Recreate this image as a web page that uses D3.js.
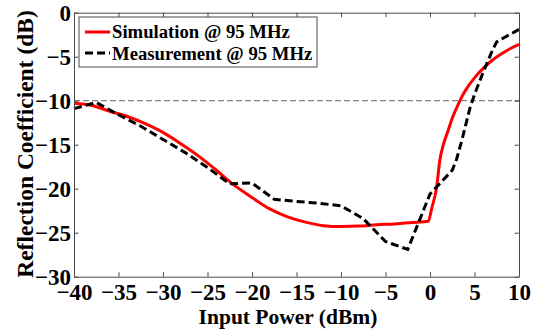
<!DOCTYPE html>
<html>
<head>
<meta charset="utf-8">
<script src="https://cdn.jsdelivr.net/npm/d3@7"></script>
<style>
  body { margin: 0; background: #fff; }
  svg { display: block; }
  text { font-family: "Liberation Serif", "Times New Roman", serif; font-weight: bold; fill: #000; }
</style>
</head>
<body>
<svg id="chart" width="543" height="331"></svg>
<script>
// Simulated reflection coefficient vs. input power
const simPower = [-40, -38, -36, -34, -32, -30, -28, -26, -24, -22, -20, -18, -16, -14, -12, -10, -8, -6, -4, -2, -0.2,
                  0.2, 0.75, 1.1, 1.5, 2.0, 2.5, 3.0, 3.5, 4.0, 5.0, 6.0, 7.0, 8.0, 9.0, 10];
const simGamma = [-10.3, -10.55, -11.2, -11.8, -12.6, -13.6, -14.9, -16.3, -17.9, -19.6, -21.0, -22.3, -23.2, -23.8, -24.2, -24.3, -24.25, -24.1, -24.0, -23.85, -23.7,
                  -22.2, -19.8, -16.8, -15.0, -13.5, -12.0, -10.8, -9.7, -8.8, -7.4, -6.3, -5.4, -4.7, -4.1, -3.6];

// Measured reflection coefficient vs. input power
const measPower = [-40, -37.5, -35, -32.5, -30, -27.5, -25, -22.5, -20, -17.5, -15, -12.5, -10, -7.5, -5, -2.5, 0,
                   2.5, 3.0, 3.5, 4.0, 4.5, 5.0, 5.5, 6.0, 6.5, 7.0, 7.5, 10];
const measGamma = [-10.9, -10.2, -11.6, -12.9, -14.4, -15.9, -17.6, -19.45, -19.35, -21.2, -21.45, -21.65, -21.95, -23.4, -26.0, -26.9, -20.6,
                   -17.9, -16.6, -14.8, -12.8, -10.8, -9.3, -8.0, -6.7, -5.5, -4.3, -3.3, -1.9];

const seriesNames = ["Simulation @ 95 MHz", "Measurement @ 95 MHz"];
const xTicks = [-40, -35, -30, -25, -20, -15, -10, -5, 0, 5, 10];
const yTicks = [0, -5, -10, -15, -20, -25, -30];
const thresholdDb = -10;
const xTitle = "Input Power (dBm)";
const yTitle = "Reflection Coefficient (dB)";

const svg = d3.select("#chart");
const margin = { left: 74, top: 12.7, right: 24, bottom: 54.3 };
const W = 543, H = 331;
const pw = W - margin.left - margin.right;
const ph = H - margin.top - margin.bottom;

const x = d3.scaleLinear().domain([-40, 10]).range([margin.left, margin.left + pw]);
const y = d3.scaleLinear().domain([-30, 0]).range([margin.top + ph, margin.top]);

const axisColor = "#4a4a4a";
const tickFont = 23;
const serif = "'Liberation Serif', 'Times New Roman', serif";

function styleAxis(g) {
  g.selectAll("path.domain").attr("stroke", axisColor).attr("stroke-width", 1);
  g.selectAll(".tick line").attr("stroke", axisColor).attr("stroke-width", 1);
  g.selectAll(".tick text")
    .attr("font-size", tickFont)
    .attr("font-family", serif)
    .attr("font-weight", "bold")
    .attr("fill", "#000");
}

// threshold line at -10 dB
svg.append("line")
  .attr("x1", x(-40)).attr("x2", x(10))
  .attr("y1", y(thresholdDb)).attr("y2", y(thresholdDb))
  .attr("stroke", "#666").attr("stroke-width", 1)
  .attr("stroke-dasharray", "6,3");

// data lines
const lineSim = d3.line().x(d => x(d[0])).y(d => y(d[1])).curve(d3.curveMonotoneX);
const lineMeas = d3.line().x(d => x(d[0])).y(d => y(d[1]));

svg.append("path")
  .datum(d3.zip(simPower, simGamma))
  .attr("d", lineSim)
  .attr("fill", "none").attr("stroke", "#ff0000").attr("stroke-width", 3)
  .attr("stroke-linejoin", "round");

svg.append("path")
  .datum(d3.zip(measPower, measGamma))
  .attr("d", lineMeas)
  .attr("fill", "none").attr("stroke", "#000").attr("stroke-width", 3)
  .attr("stroke-dasharray", "8,4");

// axes: box with inward ticks on all four sides
svg.append("g")
  .attr("transform", `translate(0,${margin.top + ph})`)
  .call(d3.axisBottom(x).tickValues(xTicks).tickSizeInner(-4.5).tickSizeOuter(0).tickPadding(7).tickFormat(d3.format("d")))
  .call(styleAxis);

svg.append("g")
  .attr("transform", `translate(0,${margin.top})`)
  .call(d3.axisTop(x).tickValues(xTicks).tickSizeInner(-4.5).tickSizeOuter(0).tickFormat(""))
  .call(styleAxis);

svg.append("g")
  .attr("transform", `translate(${margin.left},0)`)
  .call(d3.axisLeft(y).tickValues(yTicks).tickSizeInner(-4.5).tickSizeOuter(0).tickPadding(3).tickFormat(d3.format("d")))
  .call(styleAxis);

svg.append("g")
  .attr("transform", `translate(${margin.left + pw},0)`)
  .call(d3.axisRight(y).tickValues(yTicks).tickSizeInner(-4.5).tickSizeOuter(0).tickFormat(""))
  .call(styleAxis);

// axis titles
svg.append("text")
  .attr("x", 288).attr("y", 324)
  .attr("text-anchor", "middle").attr("font-size", 21.5)
  .text(xTitle);

svg.append("text")
  .attr("transform", `translate(33,144) rotate(-90)`)
  .attr("text-anchor", "middle").attr("font-size", 23.5)
  .text(yTitle);

// legend
const lg = svg.append("g");
lg.append("rect")
  .attr("x", 79).attr("y", 17).attr("width", 238).attr("height", 50)
  .attr("fill", "#fff").attr("stroke", axisColor).attr("stroke-width", 1);

const legendItems = [
  { name: seriesNames[0], color: "#ff0000", dash: null, yy: 32, base: 37.5 },
  { name: seriesNames[1], color: "#000", dash: "8,4", yy: 53, base: 60 }
];
legendItems.forEach(it => {
  lg.append("line")
    .attr("x1", 85).attr("x2", 110).attr("y1", it.yy).attr("y2", it.yy)
    .attr("stroke", it.color).attr("stroke-width", 3)
    .attr("stroke-dasharray", it.dash);
  lg.append("text")
    .attr("x", 112).attr("y", it.base)
    .attr("font-size", 18.7)
    .text(it.name);
});
</script>
</body>
</html>
